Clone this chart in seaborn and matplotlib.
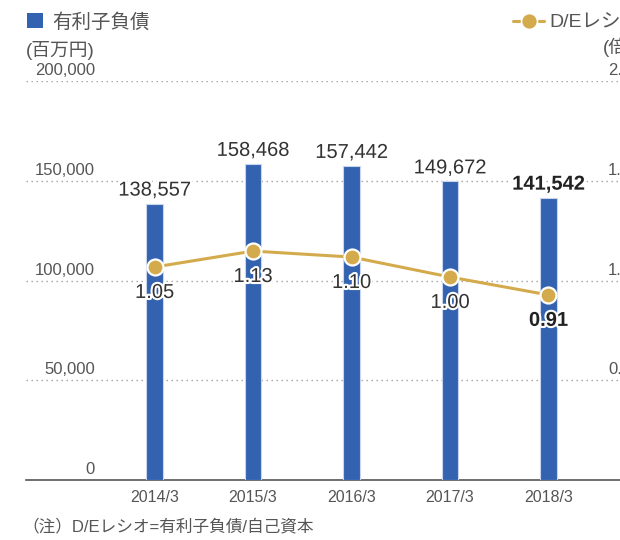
import numpy as np
import pandas as pd
import matplotlib
matplotlib.use("Agg")
import matplotlib.pyplot as plt
import matplotlib.transforms as mtransforms
import matplotlib.patheffects as pe
from matplotlib.lines import Line2D
from matplotlib.patches import Rectangle
import seaborn as sns

# data
years = ["2014/3", "2015/3", "2016/3", "2017/3", "2018/3"]
debt = [138557, 158468, 157442, 149672, 141542]
de_ratio = [1.05, 1.13, 1.10, 1.00, 0.91]
left_ticks = [0, 50000, 100000, 150000, 200000]
right_ticks = [0.5, 1.0, 1.5, 2.0]
right_labels = ["0.50", "1.00", "1.50", "2.00"]

sns.set_style("white")
plt.rcParams['font.family'] = ['Liberation Sans', 'Noto Sans CJK JP', 'DejaVu Sans']

BLUE = "#3262b0"
GOLD = "#d4ab4c"
TXT = "#333333"
GRAY = "#555555"

df = pd.DataFrame({"year": years, "debt": debt, "ratio": de_ratio, "pos": np.arange(len(years))})

W, H = 620, 540
fig = plt.figure(figsize=(6.2, 5.4), dpi=100)
ax = fig.add_axes([26 / W, 60 / H, 594 / W, 399 / H])

sns.barplot(data=df, x="year", y="debt", color=BLUE, width=0.17, saturation=1,
            edgecolor="#c9d5ec", linewidth=0.8, ax=ax, zorder=3)

XL = (-1.305, 4.726)
ax.set_ylim(0, 200000)
ax.set_xlim(*XL)
for t in left_ticks[1:]:
    ax.axhline(t, color="#a0a0a0", lw=1.0, ls=(0, (1, 2.6)), zorder=1)

# y labels sit above the grid lines
tr = mtransforms.blended_transform_factory(ax.transAxes, ax.transData)
for t in left_ticks:
    ax.text((95 - 26) / 594, t + 3000, f"{t:,}", transform=tr, ha="right", va="baseline",
            fontsize=12, color=GRAY)
for t, lab in zip(right_ticks, right_labels):
    ax.text((608 - 26) / 594, t * 100000 + 3000, lab, transform=tr, ha="left", va="baseline",
            fontsize=12, color=GRAY)

ax.set_yticks([])
ax.set_xlabel("")
ax.set_ylabel("")
ax.tick_params(axis="x", length=0, labelsize=11.5, labelcolor=GRAY, pad=7)
for s in ["top", "left", "right"]:
    ax.spines[s].set_visible(False)
ax.spines["bottom"].set_color("#555555")
ax.spines["bottom"].set_linewidth(1.2)

white = [pe.withStroke(linewidth=4, foreground="white")]

# value labels over the bars
for i, v in enumerate(debt):
    last = i == len(debt) - 1
    ax.text(i, v + 4000, f"{v:,}", ha="center", va="baseline", fontsize=14.5,
            color="#222222" if last else TXT, fontweight="bold" if last else "normal",
            path_effects=white, zorder=5)

# D/E ratio on a twin axis
ax2 = ax.twinx()
sns.lineplot(data=df, x="pos", y="ratio", color=GOLD, lw=2.2, marker="o", markersize=11.5,
             markerfacecolor=GOLD, markeredgecolor="white", markeredgewidth=1.6,
             ax=ax2, zorder=4)
ax2.set_ylim(-0.0175, 1.9825)
ax2.set_xlim(*XL)
ax2.set_yticks([])
ax2.set_ylabel("")
ax2.set_xlabel("")
for s in ["top", "left", "right", "bottom"]:
    ax2.spines[s].set_visible(False)

for i, r in enumerate(de_ratio):
    last = i == len(de_ratio) - 1
    ax2.text(i, r - 0.155, f"{r:.2f}", ha="center", va="baseline", fontsize=14.5,
             color="#222222" if last else TXT, fontweight="bold" if last else "normal",
             path_effects=[pe.withStroke(linewidth=3, foreground="white")], zorder=6)

# units
fig.text(26 / W, 1 - 50 / H, "(百万円)", fontsize=13.5, color=GRAY, va="center", ha="left")
fig.text(603 / W, 1 - 47 / H, "(倍)", fontsize=13.5, color=GRAY, va="center", ha="left")

# legend, drawn by hand to sit where the reference puts it
fig.add_artist(Rectangle((27 / W, 1 - 28 / H), 16 / W, 15 / H, transform=fig.transFigure,
                         facecolor=BLUE, edgecolor="none"))
fig.text(52 / W, 1 - 22 / H, "有利子負債", fontsize=14, color=GRAY, va="center", ha="left")
ly = 1 - 21 / H
fig.add_artist(Line2D([513 / W, 544 / W], [ly, ly], transform=fig.transFigure,
                      color=GOLD, lw=2.2))
fig.add_artist(Line2D([528.5 / W], [ly], transform=fig.transFigure, marker="o",
                      markersize=11.5, color=GOLD, markeredgecolor="white",
                      markeredgewidth=1.2, lw=0))
fig.text(549 / W, 1 - 22 / H, "D/Eレシオ", fontsize=14, color=GRAY, va="center", ha="left")

# footnote
fig.text(22 / W, 1 - 526 / H, "（注）D/Eレシオ=有利子負債/自己資本", fontsize=12,
         color=GRAY, va="center", ha="left")

fig.savefig("out.png", dpi=100)
